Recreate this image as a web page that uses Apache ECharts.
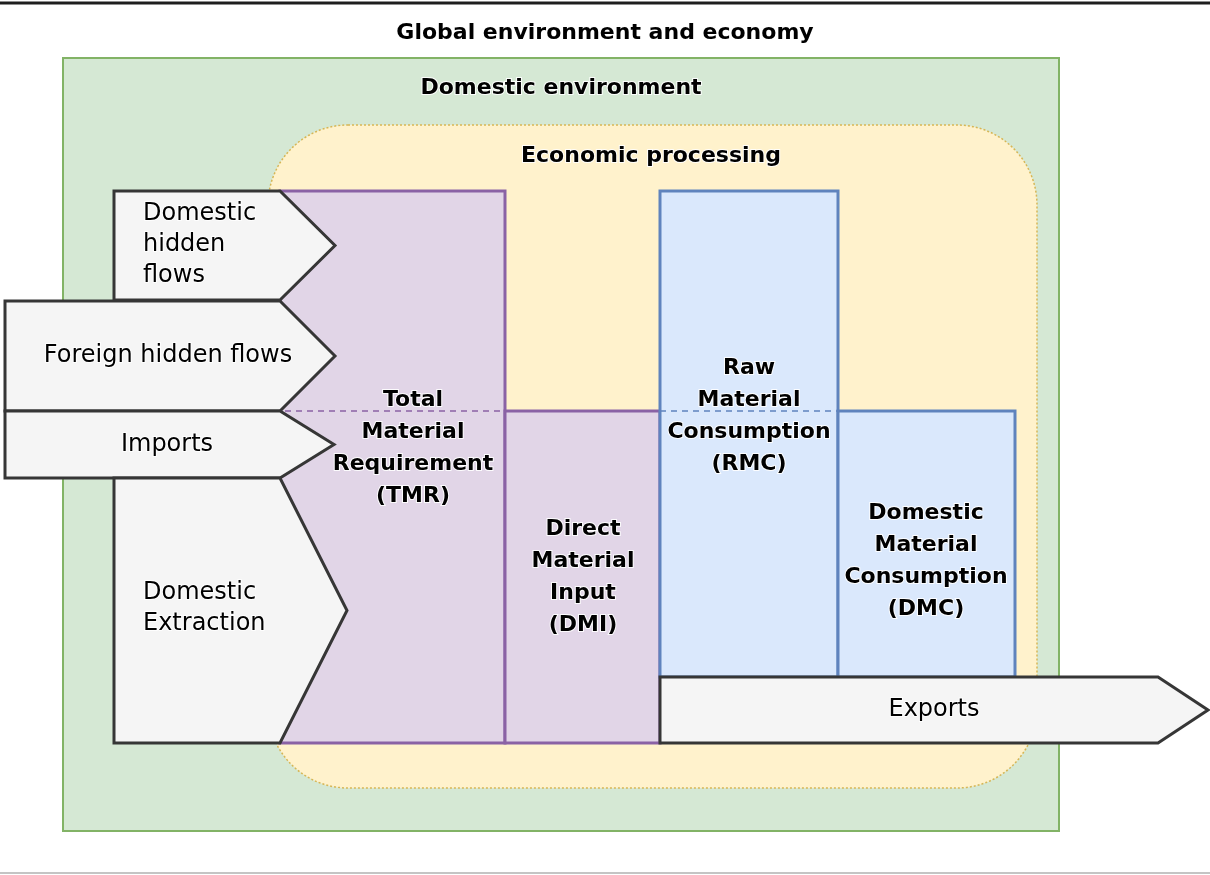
<!DOCTYPE html>
<html>
<head>
<meta charset="utf-8">
<script src="https://cdn.jsdelivr.net/npm/echarts@6.0.0/dist/echarts.min.js"></script>
<style>
html,body{margin:0;padding:0;background:#ffffff;}
#chart{width:1210px;height:875px;}
</style>
</head>
<body>
<div id="chart"></div>
<script>
// ---- Diagram data (drawing units = page pixels on a hidden value axis) ----
// Nested regions: [left, top, right, bottom]
const regionNames = ['Global environment and economy', 'Domestic environment', 'Economic processing'];
const regionBoxes = [[0, 3, 1210, 873], [63, 58, 1059, 831], [268, 125, 1037, 788]];
const regionLabelPos = [[605, 33], [561, 88], [651, 156]];

// Indicator blocks: [left, top, right, bottom]
const indicatorNames = [
  'Total\nMaterial\nRequirement\n(TMR)',
  'Direct\nMaterial\nInput\n(DMI)',
  'Raw\nMaterial\nConsumption\n(RMC)',
  'Domestic\nMaterial\nConsumption\n(DMC)'
];
const indicatorGroups = ['input', 'input', 'consumption', 'consumption'];
const indicatorBoxes = [[280, 191, 505, 743], [505, 411, 660, 743], [660, 191, 838, 677], [838, 411, 1015, 677]];
const indicatorLabelPos = [[413, 448], [583, 577], [749, 416], [926, 561]];

// Dashed split level inside the tall blocks: [from, to, level]
const splitGroups = ['input', 'consumption'];
const splitSegments = [[285, 505, 411], [660, 838, 411]];

// Flow arrows: [left, top, bodyEnd, tip, bottom]
const flowNames = ['Domestic\nhidden\nflows', 'Foreign hidden flows', 'Imports', 'Domestic\nExtraction', 'Exports'];
const flowShapes = [
  [114, 191, 280, 335, 300],
  [5, 301, 280, 335, 411],
  [5, 411, 280, 334, 478],
  [114, 478, 280, 347, 743],
  [660, 677, 1158, 1208, 743]
];
const flowLabelPos = [[143, 245], [168, 356], [167, 445], [143, 608], [934, 710]];

// ---- Styles ----
const groupStyle = {
  input: { fill: '#e1d5e7', stroke: '#8a62a5' },
  consumption: { fill: '#dae8fc', stroke: '#5f83bd' }
};
const FONT = '"DejaVu Sans", "Liberation Sans", Arial, sans-serif';
const halo = { stroke: 'rgba(255,255,255,0.9)', lineWidth: 2 };

function xy(api, x, y) { return api.coord([x, y]); }

function renderRegion(params, api) {
  const i = params.dataIndex;
  const l = api.value(0), t = api.value(1), r = api.value(2), b = api.value(3);
  const p0 = xy(api, l, t), p1 = xy(api, r, b);
  const lp = xy(api, regionLabelPos[i][0], regionLabelPos[i][1]);
  const children = [];
  if (i === 0) {
    children.push({ type: 'line', shape: { x1: p0[0], y1: p0[1], x2: p1[0], y2: p0[1] }, style: { stroke: '#1e1e1e', lineWidth: 3 } });
    children.push({ type: 'line', shape: { x1: p0[0], y1: p1[1], x2: p1[0], y2: p1[1] }, style: { stroke: '#c4c4c4', lineWidth: 2 } });
  } else if (i === 1) {
    children.push({ type: 'rect', shape: { x: p0[0], y: p0[1], width: p1[0] - p0[0], height: p1[1] - p0[1] },
      style: { fill: '#d5e8d4', stroke: '#82b366', lineWidth: 2 } });
  } else {
    children.push({ type: 'rect', shape: { x: p0[0], y: p0[1], width: p1[0] - p0[0], height: p1[1] - p0[1], r: 80 },
      style: { fill: '#fff2cc', stroke: '#d6b656', lineWidth: 1.5, lineDash: [2, 2] } });
  }
  children.push({ type: 'text', style: Object.assign({ text: regionNames[i], x: lp[0], y: lp[1], align: 'center', verticalAlign: 'middle',
    font: 'bold 22px ' + FONT, fill: '#000' }, halo) });
  return { type: 'group', children: children };
}

function renderIndicator(params, api) {
  const i = params.dataIndex;
  const p0 = xy(api, api.value(0), api.value(1)), p1 = xy(api, api.value(2), api.value(3));
  const st = groupStyle[indicatorGroups[i]];
  return { type: 'rect', shape: { x: p0[0], y: p0[1], width: p1[0] - p0[0], height: p1[1] - p0[1] },
    style: { fill: st.fill, stroke: st.stroke, lineWidth: 3 } };
}

function renderSplit(params, api) {
  const i = params.dataIndex;
  const a = xy(api, api.value(0), api.value(2)), b = xy(api, api.value(1), api.value(2));
  return { type: 'line', shape: { x1: a[0], y1: a[1], x2: b[0], y2: b[1] },
    style: { stroke: groupStyle[splitGroups[i]].stroke, lineWidth: 1.5, lineDash: [6, 5] } };
}

function renderIndicatorLabel(params, api) {
  const i = params.dataIndex;
  const p = xy(api, api.value(0), api.value(1));
  return { type: 'text', style: Object.assign({ text: indicatorNames[i], x: p[0], y: p[1], align: 'center', verticalAlign: 'middle',
    font: 'bold 22px ' + FONT, lineHeight: 32, fill: '#000' }, halo) };
}

function renderFlow(params, api) {
  const i = params.dataIndex;
  const x0 = api.value(0), y0 = api.value(1), xb = api.value(2), xt = api.value(3), y1 = api.value(4);
  const ym = (y0 + y1) / 2;
  const pts = [[x0, y0], [xb, y0], [xt, ym], [xb, y1], [x0, y1]].map(function (p) { return xy(api, p[0], p[1]); });
  const lp = xy(api, flowLabelPos[i][0], flowLabelPos[i][1]);
  const leftAligned = flowNames[i].indexOf('\n') >= 0;
  return { type: 'group', children: [
    { type: 'polygon', shape: { points: pts }, style: { fill: '#f5f5f5', stroke: '#363636', lineWidth: 3, lineJoin: 'miter' } },
    { type: 'text', style: Object.assign({ text: flowNames[i], x: lp[0], y: lp[1], align: leftAligned ? 'left' : 'center', verticalAlign: 'middle',
      font: '24px ' + FONT, lineHeight: 31, fill: '#000' }, halo) }
  ] };
}

const chart = echarts.init(document.getElementById('chart'), null, { renderer: 'canvas' });
chart.setOption({
  animation: false,
  backgroundColor: '#ffffff',
  grid: { left: 0, right: 0, top: 0, bottom: 0 },
  xAxis: { type: 'value', min: 0, max: 1210, show: false },
  yAxis: { type: 'value', min: 0, max: 875, inverse: true, show: false },
  series: [
    { type: 'custom', name: 'regions', z: 1, renderItem: renderRegion, data: regionBoxes.map(function (b, i) { return { name: regionNames[i], value: b }; }) },
    { type: 'custom', name: 'indicators', z: 2, renderItem: renderIndicator, data: indicatorBoxes.map(function (b, i) { return { name: indicatorNames[i], value: b }; }) },
    { type: 'custom', name: 'split', z: 3, renderItem: renderSplit, data: splitSegments.map(function (s) { return { value: s }; }) },
    { type: 'custom', name: 'flows', z: 4, renderItem: renderFlow, data: flowShapes.map(function (s, i) { return { name: flowNames[i], value: s }; }) },
    { type: 'custom', name: 'indicatorLabels', z: 5, renderItem: renderIndicatorLabel, data: indicatorLabelPos.map(function (p, i) { return { name: indicatorNames[i], value: p }; }) }
  ]
});
</script>
</body>
</html>
